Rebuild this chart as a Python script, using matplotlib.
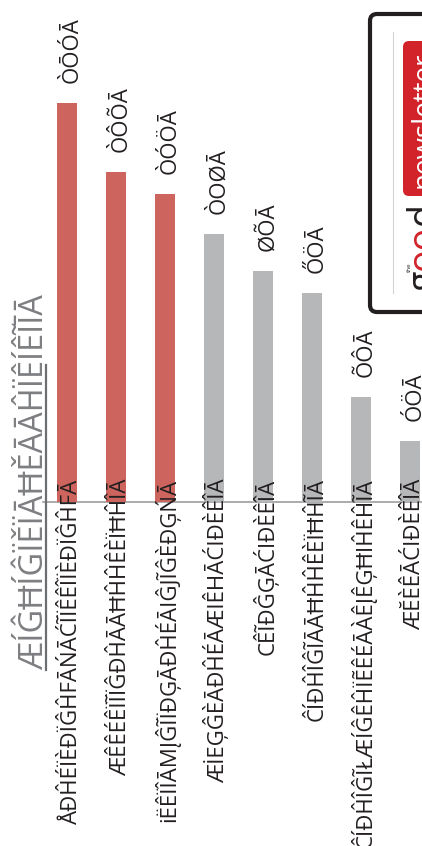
import matplotlib
matplotlib.use('Agg')
import matplotlib.pyplot as plt
from matplotlib.patches import FancyBboxPatch
import numpy as np

plt.rcParams['font.family'] = ['Open Sans', 'DejaVu Sans']

# chart data
title = 'ÆÍĜĦÍĜÏĚÏĀĦĚĀĀĤÏÊÍÊĨĪĀ'
categories = [
    'ÅĐĤÉÏÈĐÏĜĤFĀŃĀĆĨÏÊÊÎÏÈĐÏĜĤFĀ',
    'ÆÊÊÉÊÏĨÏĜĐĤĀĀĦĤĤÊÈÏĦĤÎĀ',
    'iËÊÏÎĀMĮĜĨÏĐĢĀĐĤÉĀIĜJĨĜÈĐĢŃĀ',
    'ÆİEĢĜÈĀĐĤÉĀÆIÊHĀĆIĐÈÊÎĀ',
    'CÊĨĐĜĢĀĆIĐÈÊÎĀ',
    'ĈÍĐĤÎĜĨĀĀĦĤĤÊÈÏĦĤĨĀ',
    'ĈÍĐĤÎĜĨŁÆÍĜÊĤÏẼÊÉĀÀÊĮÊĢĦIĤÊĤĨĀ',
    'ÆĔÈÊĀĆIĐÈÊÎĀ',
]
values = [199.5, 165, 154, 134, 115.5, 104.5, 52.5, 30.5]
value_labels = ['ÒŌÓĀ', 'ÒÔÕĀ', 'ÒÓÖĀ', 'ÒOØĀ', 'ØÕĀ', 'ŐÖĀ', 'ÕÔĀ', 'ÓÖĀ']
highlighted = 3

RED = '#cd655e'
GREY = '#b6b7b9'
INK = '#231f20'

W, H = 422, 846
fig = plt.figure(figsize=(W / 100, H / 100), dpi=100)

ax = fig.add_axes([0, 0, 1, 1])
ax.axis('off')
x = np.arange(len(values))
colors = [RED if i < highlighted else GREY for i in x]
ax.bar(x, values, width=0.41, color=colors, zorder=2)
ax.set_xlim(-67 / 49, (W - 67) / 49)
ax.set_ylim(-172, 251)
ax.axhline(0, xmin=43 / W, xmax=1, color='#9d9d9d', lw=1.2, zorder=1)

for i, (cat, v, lab) in enumerate(zip(categories, values, value_labels)):
    ax.annotate(cat, (i, 0), xytext=(7.5, 17), textcoords='offset points',
                rotation=90, rotation_mode='anchor', ha='right', va='baseline',
                fontsize=16, color=INK, zorder=3)
    ax.annotate(lab, (i, v), xytext=(7.5, 14.4), textcoords='offset points',
                rotation=90, rotation_mode='anchor', ha='left', va='baseline',
                fontsize=16, color=INK, zorder=3)

# overlay in pixel units for the heading and the logo
deco = fig.add_axes([0, 0, 1, 1], zorder=5)
deco.set_xlim(0, W)
deco.set_ylim(H, 0)
deco.axis('off')
deco.patch.set_alpha(0)

deco.text(43, 670, title, rotation=90, rotation_mode='anchor', ha='left',
          va='baseline', fontsize=23.5, color='#7d7e81')
deco.plot([46, 46], [365, 670], color='#6d6e71', lw=1.6)

deco.add_patch(FancyBboxPatch((370, 14), 80, 298,
                              boxstyle='round,pad=0,rounding_size=7',
                              lw=3, ec=INK, fc='white', clip_on=False))
deco.plot([393, 393], [32, 293], color='#d4d4d4', lw=0.8)
deco.add_patch(FancyBboxPatch((403, 41), 40, 155,
                              boxstyle='round,pad=0,rounding_size=6',
                              lw=0, fc='#d2232a', clip_on=False))
deco.text(431, 188, 'newsletter', rotation=90, rotation_mode='anchor',
          ha='left', va='baseline', fontsize=20, color='white')

renderer = fig.canvas.get_renderer()
y = 291
for piece, col in [('g', INK), ('oo', '#d2232a'), ('d', INK)]:
    t = deco.text(434, y, piece, rotation=90, rotation_mode='anchor',
                  ha='left', va='baseline', fontsize=27, color=col)
    y -= t.get_window_extent(renderer).height
deco.text(411, 272, 'the', rotation=90, rotation_mode='anchor', ha='left',
          va='baseline', fontsize=4.5, color=INK)

fig.savefig('out.png', dpi=100)
